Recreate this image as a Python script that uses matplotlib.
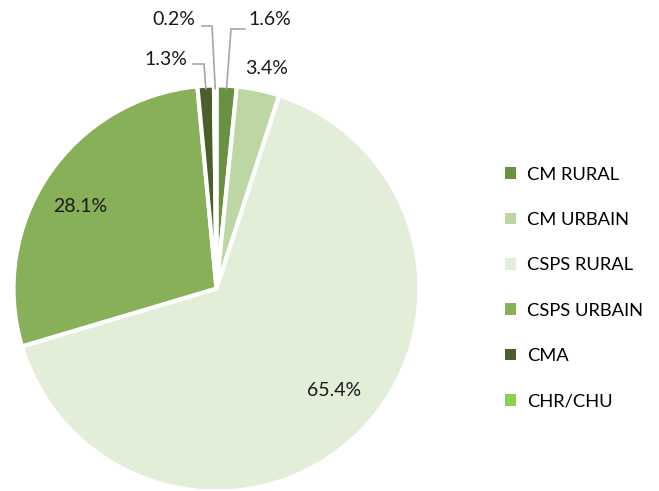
import matplotlib.pyplot as plt
from matplotlib.patches import Patch
import numpy as np

plt.rcParams['font.family'] = ['Lato', 'DejaVu Sans']

categories = ["CM RURAL", "CM URBAIN", "CSPS RURAL", "CSPS URBAIN", "CMA", "CHR/CHU"]
values = [1.6, 3.4, 65.4, 28.1, 1.3, 0.2]
colors = ["#6a9141", "#bcd6a4", "#e3eed9", "#88b058", "#4a5f2b", "#8ccf52"]

W, H = 659, 491
cx, cy, r = 216.5, 288.5, 203

# label placement in pixels: text pos, alignment, leader knee and end
label_px = {
    "CM RURAL": (248, 20, "left", (231, 29), (245, 29)),
    "CM URBAIN": (267, 69, "center", None, None),
    "CSPS RURAL": (334, 390, "center", None, None),
    "CSPS URBAIN": (80, 207, "center", None, None),
    "CMA": (187, 60, "right", (204, 64), (193, 64)),
    "CHR/CHU": (195, 20, "right", (212, 26), (202, 26)),
}


def to_unit(px, py):
    return (px - cx) / r, (cy - py) / r


fig = plt.figure(figsize=(W / 100, H / 100), dpi=100)
ax = fig.add_axes([(cx - r) / W, (H - cy - r) / H, 2 * r / W, 2 * r / H])

wedges, _ = ax.pie(values, colors=colors, startangle=90, counterclock=False,
                   radius=1, wedgeprops=dict(edgecolor="white", linewidth=3))
ax.set_xlim(-1, 1)
ax.set_ylim(-1, 1)
ax.set_aspect("equal")
ax.axis("off")

for w, cat, v in zip(wedges, categories, values):
    tx, ty, ha, knee, end = label_px[cat]
    ux, uy = to_unit(tx, ty)
    ax.text(ux, uy, f"{v:.1f}%", ha=ha, va="center", fontsize=14,
            color="#1a1a1a", clip_on=False)
    if knee is not None:
        ang = np.deg2rad((w.theta1 + w.theta2) / 2)
        sx, sy = 0.985 * np.cos(ang), 0.985 * np.sin(ang)
        kx, ky = to_unit(*knee)
        ex, ey = to_unit(*end)
        ax.plot([sx, kx, ex], [sy, ky, ey], color="#a6a6a6",
                lw=1.2, clip_on=False, solid_joinstyle="miter")

handles = [Patch(facecolor=c, edgecolor="none") for c in colors]
fig.legend(handles, categories, loc="center left",
           bbox_to_anchor=(489 / W, (H - 288) / H), frameon=False,
           fontsize=13.2, handlelength=0.58, handleheight=0.58,
           handletextpad=0.6, labelspacing=1.6)

fig.savefig("out.png", dpi=100)
